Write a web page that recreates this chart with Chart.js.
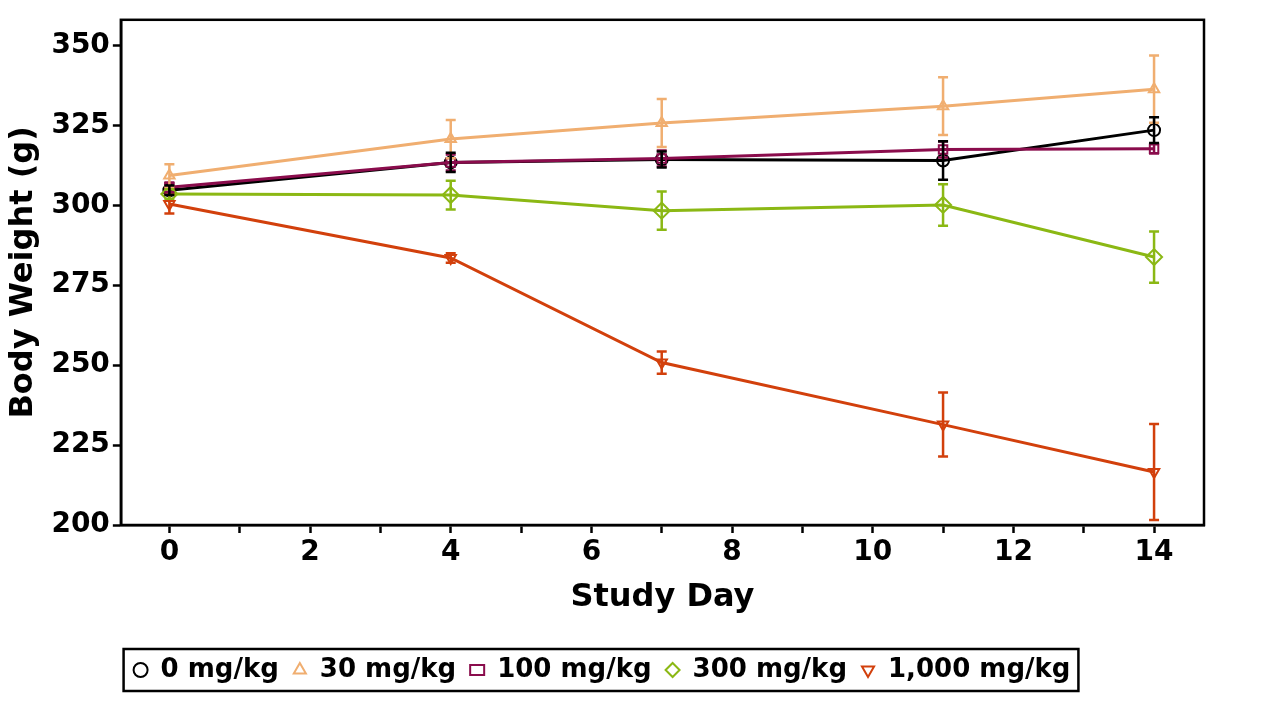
<!DOCTYPE html>
<html><head><meta charset="utf-8">
<script src="https://cdn.jsdelivr.net/npm/chart.js@4"></script>
<style>html,body{margin:0;background:#fff}#w{width:1270px;height:703px}</style>
</head><body><div id="w"><canvas id="c"></canvas></div>
<script>
const days=[0,4,7,11,14];
const labels=['0 mg/kg','30 mg/kg','100 mg/kg','300 mg/kg','1,000 mg/kg'];
const v0=[304.7,313.4,314.3,314.0,323.5], e0=[1.5,3,2.5,6,4];
const v30=[309.3,320.7,325.7,331.0,336.3], e30=[3.5,6,7.5,9,10.5];
const v100=[305.6,313.4,314.6,317.4,317.7], e100=[1.5,2.5,2.5,2.5,1.5];
const v300=[303.5,303.2,298.3,300.1,283.8], e300=[1.5,4.5,6,6.5,8];
const v1000=[300.4,283.5,250.8,231.4,216.6], e1000=[3,1.5,3.5,10,15];
const colors=['#000000','#f0ae70','#8a0c4c','#8bb814','#d2400c'];
const styles=['circle','triangle','rect','rectRot','triangle'];
const vals=[v0,v30,v100,v300,v1000], errs=[e0,e30,e100,e300,e1000];
const F='DejaVu Sans';
const datasets=vals.map((v,i)=>({label:labels[i],data:v.map((y,j)=>({x:days[j],y})),err:errs[i],
 borderColor:colors[i],backgroundColor:'rgba(0,0,0,0)',borderWidth:3,pointStyle:styles[i],
 pointRotation:i===4?180:0,pointRadius:i===3?8:6,pointBorderWidth:2,tension:0}));
datasets.reverse();
const eb={id:'eb',afterDatasetsDraw(ch){const c=ch.ctx,ys=ch.scales.y,xs=ch.scales.x;
 ch.data.datasets.forEach(d=>{c.save();c.strokeStyle=d.borderColor;c.lineWidth=2.5;
 d.data.forEach((p,j)=>{const x=xs.getPixelForValue(p.x),a=ys.getPixelForValue(p.y+d.err[j]),b=ys.getPixelForValue(p.y-d.err[j]);
 c.beginPath();c.moveTo(x,a);c.lineTo(x,b);c.moveTo(x-5,a);c.lineTo(x+5,a);c.moveTo(x-5,b);c.lineTo(x+5,b);c.stroke();});c.restore();});
 const A=ch.chartArea;c.save();c.strokeStyle='#000';c.lineWidth=2.5;c.strokeRect(A.left,A.top,A.right-A.left,A.bottom-A.top);
 const H=ch.legend.legendHitBoxes;if(H&&H.length){const l=Math.min(...H.map(h=>h.left))-10,r=Math.max(...H.map(h=>h.left+h.width))+8,
 t=Math.min(...H.map(h=>h.top))-8,bt=Math.max(...H.map(h=>h.top+h.height))+8;c.strokeRect(l,t,r-l,bt-t);}c.restore();}};
new Chart(document.getElementById('c'),{type:'line',data:{datasets},plugins:[eb],
options:{responsive:true,maintainAspectRatio:false,animation:false,
layout:{padding:{left:0,right:66,top:2,bottom:10}},
plugins:{tooltip:{enabled:false},legend:{position:'bottom',reverse:true,
 labels:{usePointStyle:true,pointStyleWidth:14,boxHeight:10,color:'#000',padding:14,font:{family:F,size:26,weight:'bold'}}}},
scales:{x:{type:'linear',min:-0.69,max:14.71,
 afterBuildTicks(s){s.ticks=[];for(let i=0;i<=14;i++)s.ticks.push({value:i});},
 ticks:{color:'#000',font:{family:F,size:28,weight:'bold'},callback:v=>v%2===0?v:'',maxRotation:0,autoSkip:false},
 grid:{drawOnChartArea:false,color:'#000',tickLength:8,tickWidth:2.5},border:{color:'#000',width:2.5},
 title:{display:true,text:'Study Day',color:'#000',font:{family:F,size:32,weight:'bold'},padding:{top:6,bottom:26}}},
y:{min:200,max:358,afterBuildTicks(s){s.ticks=[200,225,250,275,300,325,350].map(v=>({value:v}));},
 ticks:{color:'#000',font:{family:F,size:28,weight:'bold'}},
 grid:{drawOnChartArea:false,color:'#000',tickLength:8,tickWidth:2.5},border:{color:'#000',width:2.5},
 title:{display:true,text:'Body Weight (g)',color:'#000',font:{family:F,size:32,weight:'bold'},padding:{bottom:6}}}}}});
</script></body></html>
